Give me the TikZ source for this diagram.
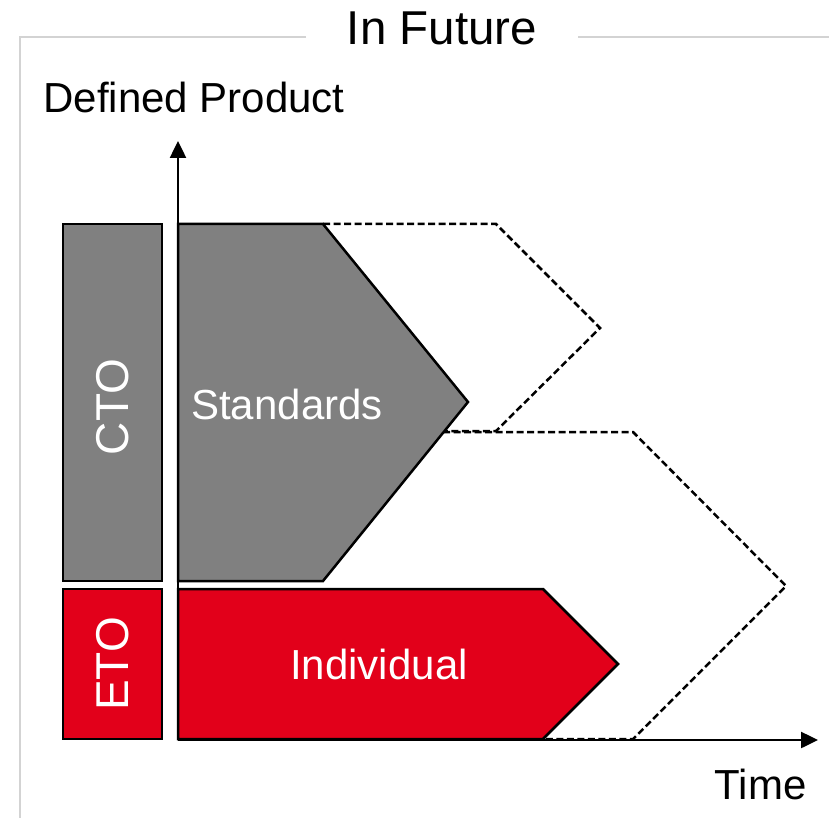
\documentclass[tikz,border=0pt]{standalone}
\usepackage{fontspec}
\setmainfont{Liberation Sans}
\usetikzlibrary{arrows.meta}
\definecolor{etored}{HTML}{E2001A}
\definecolor{ctogray}{HTML}{808080}
\definecolor{framegray}{HTML}{D3D3D3}
\tikzset{
  box/.style={draw=black, line width=2.5pt, line join=miter},
  future/.style={draw=black, line width=2.5pt, dash pattern=on 7pt off 3.5pt},
  inner text/.style={text=white, font=\fontsize{42}{48}\selectfont},
  axis text/.style={font=\fontsize{42}{48}\selectfont},
  axis/.style={line width=2.5pt, -{Triangle[length=17pt,width=16pt]}},
}
\begin{document}
\begin{tikzpicture}[x=1pt,y=-1pt]
    \useasboundingbox (0,0) rectangle (829,818);
    % frame with title
    \draw[framegray, line width=1.5pt] (306,37) -| (20,818);
    \draw[framegray, line width=1.5pt] (578,37) -- (829,37);
    \node[anchor=base, font=\fontsize{47.5}{52}\selectfont] (title) at (442,45) {In Future};

    % future growth (dashed)
    \draw[future] (323,224) -- (496,224) -- (600,328) -- (496,431) -- (443,431);
    \draw[future] (443,432) -- (633,432) -- (786,586) -- (633,739) -- (540,739);

    % left boxes
    \filldraw[box, fill=ctogray] (63,224) rectangle (162,581);
    \filldraw[box, fill=etored] (63,589) rectangle (162,739);
    \node[inner text, rotate=90, font=\fontsize{46}{50}\selectfont] (cto) at (112.5,407) {CTO};
    \node[inner text, rotate=90, font=\fontsize{46}{50}\selectfont] (eto) at (112.5,664) {ETO};

    % arrows
    \filldraw[box, fill=ctogray] (178,224) -- (323,224) -- (468,402)
        -- (323,581) -- (178,581) -- cycle;
    \filldraw[box, fill=etored] (178,589) -- (543,589) -- (618,664)
        -- (543,739) -- (178,739) -- cycle;
    \node[inner text] (std) at (287,404) {Standards};
    \node[inner text] (ind) at (379,664) {Individual};

    % axes
    \coordinate (O) at (178,740);
    \coordinate (Y) at (178,141);
    \coordinate (X) at (818,740);
    \draw[axis] (O) -- (Y);
    \draw[axis] (O) -- (X);
    \node[axis text, anchor=base west] (ylab) at (40,113) {Defined Product};
    \node[axis text, anchor=base east] (xlab) at (810,799) {Time};
\end{tikzpicture}
\end{document}
